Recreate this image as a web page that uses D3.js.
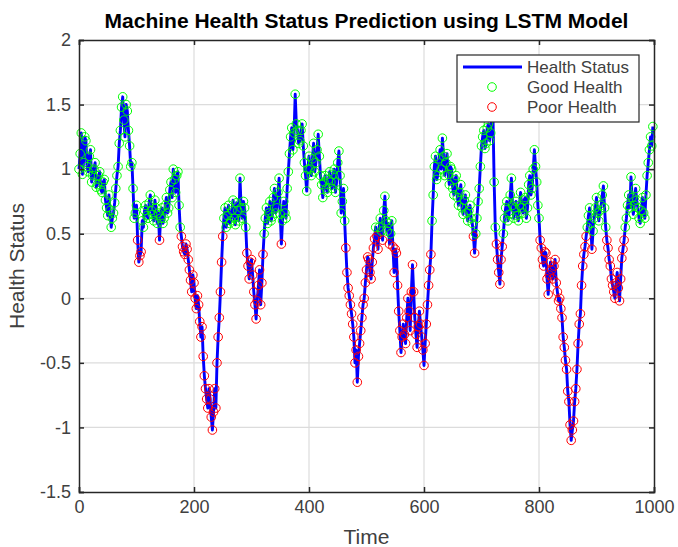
<!DOCTYPE html>
<html>
<head>
<meta charset="utf-8">
<script src="https://cdn.jsdelivr.net/npm/d3@7"></script>
<style>
  body { margin: 0; background: #fff; }
  svg { font-family: 'Liberation Sans', Arial, sans-serif; }
</style>
</head>
<body>
<div id="chart"></div>
<script>
const timeStep = 2;
const healthValues = [
  1.00, 1.12, 1.28, 0.96, 1.05, 1.25, 1.22, 1.02, 0.98, 1.10, 1.15, 0.90, 0.95, 1.00, 1.05, 0.86, 0.88, 0.95, 0.98, 0.84,
  0.82, 0.90, 0.92, 0.76, 0.70, 0.64, 0.80, 0.68, 0.55, 0.62, 0.66, 0.74, 0.85, 0.95, 1.02, 1.20, 1.30, 1.48, 1.56, 1.38,
  1.25, 1.50, 1.45, 1.30, 1.18, 1.02, 1.05, 0.85, 0.62, 0.66, 0.72, 0.45, 0.28, 0.33, 0.36, 0.60, 0.55, 0.68, 0.72, 0.64,
  0.62, 0.74, 0.80, 0.68, 0.65, 0.60, 0.76, 0.70, 0.58, 0.66, 0.45, 0.62, 0.70, 0.58, 0.62, 0.72, 0.78, 0.66, 0.70, 0.84,
  0.90, 0.78, 1.00, 0.92, 0.82, 0.95, 0.98, 0.72, 0.55, 0.48, 0.40, 0.36, 0.34, 0.42, 0.38, 0.30, 0.22, 0.14, 0.05, 0.18,
  0.12, 0.00, -0.08, 0.02, -0.05, -0.18, -0.30, -0.22, -0.45, -0.60, -0.70, -0.78, -0.85, -0.70, -0.78, -0.92, -1.02, -0.88, -0.70, -0.85,
  -0.50, -0.30, -0.15, 0.05, 0.28, 0.48, 0.62, 0.70, 0.55, 0.64, 0.72, 0.58, 0.60, 0.68, 0.76, 0.62, 0.57, 0.74, 0.68, 0.60,
  0.93, 0.70, 0.62, 0.75, 0.70, 0.55, 0.35, 0.25, 0.15, 0.28, 0.30, 0.18, 0.05, -0.05, -0.16, -0.02, 0.10, 0.22, -0.05, 0.12,
  0.34, 0.50, 0.62, 0.70, 0.58, 0.66, 0.75, 0.60, 0.63, 0.78, 0.85, 0.66, 0.70, 0.82, 0.93, 0.65, 0.42, 0.60, 0.75, 0.66,
  0.62, 0.85, 0.98, 1.12, 1.25, 1.32, 1.15, 1.28, 1.58, 1.35, 1.30, 1.20, 1.22, 1.30, 1.35, 1.18, 1.05, 0.95, 0.83, 1.00,
  1.10, 1.00, 0.95, 1.08, 1.20, 0.98, 1.05, 1.15, 1.27, 1.10, 0.95, 0.88, 0.78, 0.90, 0.95, 0.85, 0.82, 0.92, 0.98, 0.90,
  0.85, 0.96, 1.00, 0.82, 0.90, 1.05, 1.14, 0.95, 0.66, 0.75, 0.85, 0.60, 0.39, 0.20, 0.08, 0.02, -0.05, -0.12, -0.20, -0.30,
  -0.50, -0.40, -0.65, -0.45, -0.35, -0.25, -0.15, -0.05, 0.00, 0.12, 0.22, 0.32, 0.30, 0.20, 0.15, 0.28, 0.39, 0.46, 0.55, 0.48,
  0.38, 0.55, 0.62, 0.52, 0.45, 0.68, 0.79, 0.60, 0.52, 0.58, 0.42, 0.50, 0.60, 0.40, 0.20, 0.38, 0.35, 0.10, -0.10, -0.25,
  -0.42, -0.30, -0.20, -0.28, -0.35, -0.15, 0.00, -0.10, -0.25, 0.05, 0.26, 0.05, -0.15, -0.28, -0.38, -0.22, -0.10, -0.20, -0.30, -0.40,
  -0.52, -0.35, -0.20, -0.05, 0.10, 0.22, 0.34, 0.60, 0.80, 1.02, 1.10, 0.92, 0.95, 1.08, 1.15, 1.00, 1.24, 1.10, 0.95, 1.05,
  1.12, 0.96, 0.88, 1.02, 1.00, 0.85, 0.80, 0.92, 0.95, 0.78, 0.72, 0.82, 0.88, 0.70, 0.65, 0.76, 0.80, 0.66, 0.60, 0.68,
  0.72, 0.62, 0.58, 0.48, 0.35, 0.50, 0.62, 0.75, 0.85, 1.02, 1.18, 1.25, 1.30, 1.16, 1.20, 1.32, 1.35, 1.22, 1.28, 1.42,
  1.40, 0.90, 0.55, 0.42, 0.30, 0.20, 0.11, 0.30, 0.40, 0.50, 0.62, 0.70, 0.75, 0.60, 0.65, 0.80, 0.93, 0.72, 0.62, 0.70,
  0.75, 0.64, 0.60, 0.72, 0.82, 0.70, 0.66, 0.76, 0.78, 0.62, 0.70, 0.88, 0.95, 0.80, 0.85, 1.00, 1.15, 1.02, 0.90, 0.72,
  0.62, 0.45, 0.39, 0.30, 0.25, 0.36, 0.35, 0.15, 0.03, 0.18, 0.28, 0.22, 0.15, 0.25, 0.30, 0.12, 0.05, -0.02, 0.00, -0.08,
  -0.15, -0.30, -0.38, -0.48, -0.55, -0.72, -0.80, -0.98, -1.10, -1.02, -0.95, -0.80, -0.70, -0.55, -0.35, -0.20, -0.12, 0.10, 0.25, 0.34,
  0.40, 0.48, 0.55, 0.64, 0.70, 0.58, 0.38, 0.52, 0.62, 0.70, 0.78, 0.66, 0.60, 0.68, 0.72, 0.80, 0.87, 0.70, 0.55, 0.45,
  0.39, 0.30, 0.25, 0.15, 0.10, 0.05, 0.00, 0.12, 0.20, 0.08, -0.02, 0.15, 0.31, 0.38, 0.45, 0.55, 0.62, 0.72, 0.80, 0.70,
  0.94, 0.78, 0.65, 0.72, 0.85, 0.76, 0.70, 0.62, 0.58, 0.68, 0.78, 0.66, 0.62, 0.80, 0.95, 1.05, 1.15, 1.25, 1.18, 1.33,
];
const threshold = 0.5;
const xTicks = [0, 200, 400, 600, 800, 1000];
const yTicks = [-1.5, -1, -0.5, 0, 0.5, 1, 1.5, 2];
const legendLabels = ['Health Status', 'Good Health', 'Poor Health'];

const points = healthValues.map((v, i) => ({ t: i * timeStep, v: v }));

const W = 678, H = 547;
const margin = { top: 40, right: 24, bottom: 55, left: 79 };
const width = W - margin.left - margin.right;
const height = H - margin.top - margin.bottom;

const svg = d3.select('#chart')
  .append('svg')
  .attr('width', W)
  .attr('height', H);

const g = svg.append('g')
  .attr('transform', `translate(${margin.left},${margin.top})`);

const x = d3.scaleLinear().domain([0, 1000]).range([0, width]);
const y = d3.scaleLinear().domain([-1.5, 2]).range([height, 0]);

// grid
g.append('g')
  .selectAll('line')
  .data(xTicks.slice(1, -1))
  .enter()
  .append('line')
  .attr('x1', (d) => x(d)).attr('x2', (d) => x(d))
  .attr('y1', 0).attr('y2', height)
  .attr('stroke', '#dcdcdc').attr('stroke-width', 1.2);
g.append('g')
  .selectAll('line')
  .data(yTicks.slice(1, -1))
  .enter()
  .append('line')
  .attr('x1', 0).attr('x2', width)
  .attr('y1', (d) => y(d)).attr('y2', (d) => y(d))
  .attr('stroke', '#dcdcdc').attr('stroke-width', 1.2);

// data
const line = d3.line().x((d) => x(d.t)).y((d) => y(d.v));
g.append('path')
  .datum(points)
  .attr('fill', 'none')
  .attr('stroke', '#0000ff')
  .attr('stroke-width', 2.9)
  .attr('stroke-linejoin', 'round')
  .attr('d', line);

g.append('g')
  .selectAll('circle')
  .data(points)
  .enter()
  .append('circle')
  .attr('cx', (d) => x(d.t))
  .attr('cy', (d) => y(d.v))
  .attr('r', 4.3)
  .attr('fill', 'none')
  .attr('stroke', (d) => (d.v >= threshold ? '#00ff00' : '#ff0000'))
  .attr('stroke-width', 1);

// axes (MATLAB box style, ticks inside)
const axisColor = '#262626';
const labelColor = '#404040';
const xAxis = g.append('g')
  .attr('transform', `translate(0,${height})`)
  .call(d3.axisBottom(x).tickValues(xTicks).tickSize(-5).tickPadding(8)
    .tickFormat((d) => String(d)));
const xAxisTop = g.append('g')
  .call(d3.axisTop(x).tickValues(xTicks).tickSize(-5).tickFormat(''));
const yAxis = g.append('g')
  .call(d3.axisLeft(y).tickValues(yTicks).tickSize(-5).tickPadding(8)
    .tickFormat((d) => String(d)));
const yAxisRight = g.append('g')
  .attr('transform', `translate(${width},0)`)
  .call(d3.axisRight(y).tickValues(yTicks).tickSize(-5).tickFormat(''));

[xAxis, xAxisTop, yAxis, yAxisRight].forEach((a) => {
  a.select('.domain').attr('stroke', axisColor).attr('stroke-width', 1.5);
  a.selectAll('.tick line').attr('stroke', axisColor).attr('stroke-width', 1.5);
  a.selectAll('text')
    .attr('fill', labelColor)
    .style('font-size', '18px');
});

// labels
svg.append('text')
  .attr('x', margin.left + width / 2)
  .attr('y', 28)
  .attr('text-anchor', 'middle')
  .style('font-size', '21px')
  .style('font-weight', 'bold')
  .attr('fill', '#000')
  .text('Machine Health Status Prediction using LSTM Model');

svg.append('text')
  .attr('x', margin.left + width / 2)
  .attr('y', 544)
  .attr('text-anchor', 'middle')
  .style('font-size', '21px')
  .attr('fill', labelColor)
  .text('Time');

svg.append('text')
  .attr('transform', `translate(24,${margin.top + height / 2}) rotate(-90)`)
  .attr('text-anchor', 'middle')
  .style('font-size', '21px')
  .attr('fill', labelColor)
  .text('Health Status');

// legend
const lg = svg.append('g').attr('transform', 'translate(457,55)');
lg.append('rect')
  .attr('width', 182).attr('height', 67)
  .attr('fill', '#fff')
  .attr('stroke', axisColor).attr('stroke-width', 1.2);

const legendItem = lg.selectAll('g.item')
  .data(legendLabels)
  .enter()
  .append('g')
  .attr('class', 'item')
  .attr('transform', (d, i) => `translate(0,${12 + i * 20})`);

legendItem.filter((d, i) => i === 0)
  .append('line')
  .attr('x1', 6).attr('x2', 65)
  .attr('stroke', '#0000ff').attr('stroke-width', 3);
legendItem.filter((d, i) => i > 0)
  .append('circle')
  .attr('cx', 35).attr('r', 4.3)
  .attr('fill', 'none')
  .attr('stroke', (d, i) => (i === 0 ? '#00ff00' : '#ff0000'));
legendItem.append('text')
  .attr('x', 70)
  .attr('dy', '0.35em')
  .style('font-size', '17px')
  .attr('fill', labelColor)
  .text((d) => d);
</script>
</body>
</html>
